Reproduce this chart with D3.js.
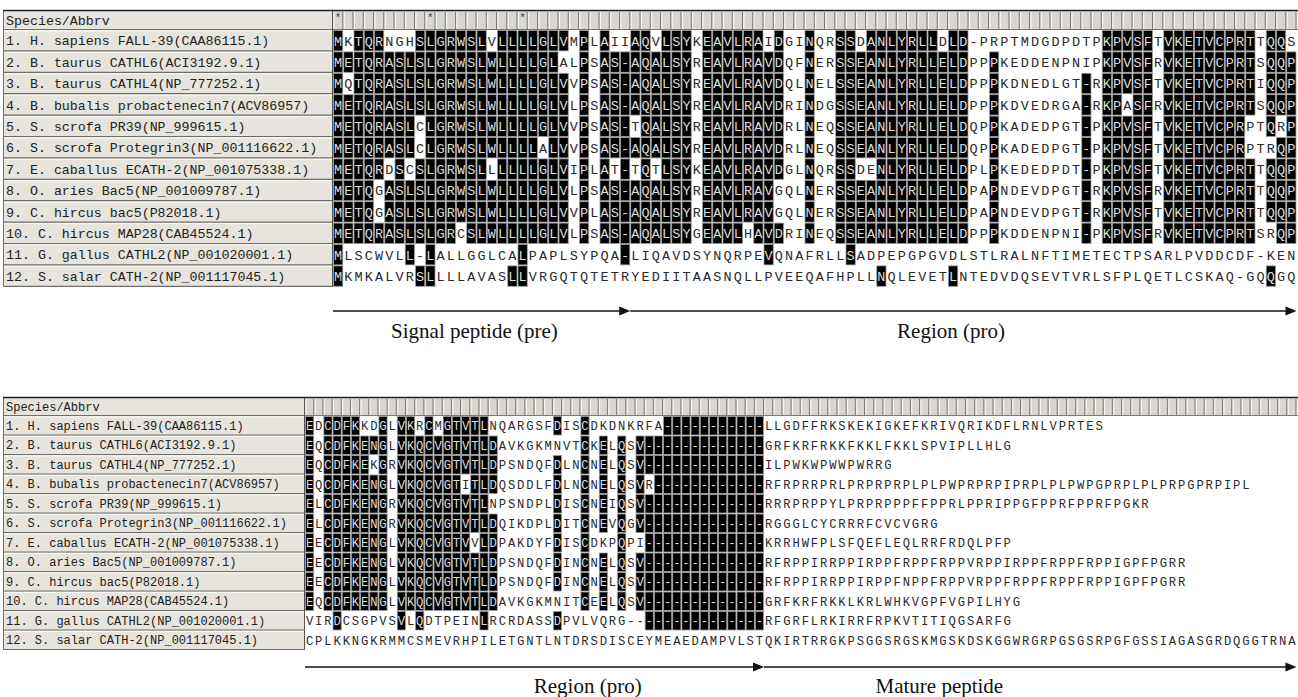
<!DOCTYPE html>
<html>
<head>
<meta charset="utf-8">
<script src="https://cdn.jsdelivr.net/npm/d3@7"></script>
<style>
body{margin:0;background:#fff;}
svg{display:block;}
</style>
</head>
<body>
<svg id="fig" width="1298" height="697"></svg>
<script>
// species names, same order in both blocks
var speciesLabels = [
    "1. H. sapiens FALL-39(CAA86115.1)",
    "2. B. taurus CATHL6(ACI3192.9.1)",
    "3. B. taurus CATHL4(NP_777252.1)",
    "4. B. bubalis probactenecin7(ACV86957)",
    "5. S. scrofa PR39(NP_999615.1)",
    "6. S. scrofa Protegrin3(NP_001116622.1)",
    "7. E. caballus ECATH-2(NP_001075338.1)",
    "8. O. aries Bac5(NP_001009787.1)",
    "9. C. hircus bac5(P82018.1)",
    "10. C. hircus MAP28(CAB45524.1)",
    "11. G. gallus CATHL2(NP_001020001.1)",
    "12. S. salar CATH-2(NP_001117045.1)"
]

// first part of the alignment (signal peptide + start of pro region)
var preproSeqs = [
    "MKTQRNGHSLGRWSLVLLLLGLVMPLAIIAQVLSYKEAVLRAIDGINQRSSDANLYRLLDLD-PRPTMDGDPDTPKPVSFTVKETVCPRTTQQSP",
    "METQRASLSLGRWSLWLLLLGLALPSAS-AQALSYREAVLRAVDQFNERSSEANLYRLLELDPPPKEDDENPNIPKPVSFRVKETVCPRTSQQPA",
    "MQTQRASLSLGRWSLWLLLLGLVVPSAS-AQALSYREAVLRAVDQLNELSSEANLYRLLELDPPPKDNEDLGT-RKPVSFTVKETVCPRTIQQPA",
    "METQRASLSLGRWSLWLLLLGLVLPSAS-AQALSYREAVLRAVDRINDGSSEANLYRLLELDPPPKDVEDRGA-RKPASFRVKETVCPRTSQQPA",
    "METQRASLCLGRWSLWLLLLGLVVPSAS-TQALSYREAVLRAVDRLNEQSSEANLYRLLELDQPPKADEDPGT-PKPVSFTVKETVCPRPTQRPP",
    "METQRASLCLGRWSLWLLLLALVVPSAS-AQALSYREAVLRAVDRLNEQSSEANLYRLLELDQPPKADEDPGT-PKPVSFTVKETVCPRPTRQPP",
    "METQRDSCSLGRWSLLLLLLGLVIPLAT-TQTLSYKEAVLRAVDGLNQRSSDENLYRLLELDPLPKEDEDPDT-PKPVSFTVKETVCPRTTQQPP",
    "METQGASLSLGRWSLWLLLLGLVLPSAS-AQALSYREAVLRAVGQLNERSSEANLYRLLELDPAPNDEVDPGT-RKPVSFRVKETVCPRTTQQPP",
    "METQGASLSLGRWSLWLLLLGLVVPLAS-AQALSYREAVLRAVGQLNERSSEANLYRLLELDPAPNDEVDPGT-RKPVSFTVKETVCPRTTQQPP",
    "METQRASLSLGRCSLWLLLLGLVLPSAS-AQALSYGEAVLHAVDRINEQSSEANLYRLLELDPPPKDDENPNI-PKPVSFRVKETVCPRTSRQPT",
    "MLSCWVLL-LALLGGLCALPAPLSYPQA-LIQAVDSYNQRPEVQNAFRLLSADPEPGPGVDLSTLRALNFTIMETECTPSARLPVDDCDF-KENG",
    "MKMKALVRSLLLLAVASLLVRGQTQTETRYEDIITAASNQLLPVEEQAFHPLLNQLEVETLNTEDVDQSEVTVRLSFPLQETLCSKAQ-GQQGQE"
]

// second part (end of pro region + mature peptide)
var proMatureSeqs = [
    "EDCDFKKDGLVKRCMGTVTLNQARGSFDISCDKDNKRFA-----------LLGDFFRKSKEKIGKEFKRIVQRIKDFLRNLVPRTES",
    "EQCDFKENGLVKQCVGTVTLDAVKGKMNVTCKELQSV-------------GRFKRFRKKFKKLFKKLSPVIPLLHLG",
    "EQCDFKEKGRVKQCVGTVTLDPSNDQFDLNCNELQSV-------------ILPWKWPWWPWRRG",
    "EQCDFKENGLVKQCVGTITLDQSDDLFDLNCNELQSVR------------RFRPRRPRLPRPRPRPLPLPWPRPRPIPRPLPLPWPGPRPLPLPRPGPRPIPL",
    "ELCDFKENGRVKQCVGTVTLNPSNDPLDISCNEIQSV-------------RRRPRPPYLPRPRPPPFFPPRLPPRIPPGFPPRFPPRFPGKR",
    "ELCDFKENGRVKQCVGTVTLDQIKDPLDITCNEVQGV-------------RGGGLCYCRRRFCVCVGRG",
    "EECDFKENGLVKQCVGTVVLDPAKDYFDISCDKPQPI-------------KRRHWFPLSFQEFLEQLRRFRDQLPFP",
    "EECDFKENGLVKQCVGTVTLDPSNDQFDINCNELQSV-------------RFRPPIRRPPIRPPFRPPFRPPVRPPIRPPFRPPFRPPIGPFPGRR",
    "EECDFKENGLVKQCVGTVTLDPSNDQFDINCNELQSV-------------RFRPPIRRPPIRPPFNPPFRPPVRPPFRPPFRPPFRPPIGPFPGRR",
    "EQCDFKENGLVKQCVGTVTLDAVKGKMNITCEELQSV-------------GRFKRFRKKLKRLWHKVGPFVGPILHYG",
    "VIRDCSGPVSVLQDTPEINLRCRDASSDPVLVQRG---------------RFGRFLRKIRRFRPKVTITIQGSARFG",
    "CPLKKNGKRMMCSMEVRHPILETGNTLNTDRSDISCEYMEAEDAMPVLSTQKIRTRRGKPSGGSRGSKMGSKDSKGGWRGRPGSGSRPGFGSSIAGASGRDQGGTRNA"
]

// regions under each block, in alignment columns
var preproRegions = [
    {name:"Signal peptide (pre)", start:0, end:29, labelCol:13.8},
    {name:"Region (pro)", start:29, end:94, labelCol:60.3}
]
var matureRegions = [
    {name:"Region (pro)", start:0, end:50, labelCol:30.8},
    {name:"Mature peptide", start:50, end:108, labelCol:69.1}
]

// a residue is shaded when at least this share of sequences agree
var shadeShare = 2/3;

var svg = d3.select("#fig");
var W = 1298;
var mono = "'Liberation Mono','DejaVu Sans Mono',monospace";
var serif = "'Liberation Serif','Times New Roman',serif";

var consensusAt = function(seqs, i){
    var present = seqs.filter(function(s){return i < s.length;});
    var counts = d3.rollup(present, function(v){return v.length;}, function(s){return s[i];});
    var best = d3.greatest(Array.from(counts), function(d){return d[1];});
    if(best && best[1] / seqs.length >= shadeShare - 1e-9){return best[0];}
    return null;
}
var conservedAt = function(seqs, i){
    var chars = seqs.map(function(s){return s[i];});
    return chars.every(function(c){return c && c != "-" && c == chars[0];});
}

var drawBlock = function(seqs, regions, cfg){
    var g = svg.append("g");
    var nCols = d3.max(seqs, function(s){return s.length;});
    var rulerCols = Math.ceil((W - cfg.colX) / cfg.colW);
    var x = d3.scaleLinear()
        .domain([0, rulerCols])
        .range([cfg.colX, cfg.colX + rulerCols * cfg.colW]);
    var y = d3.scaleBand()
        .domain(d3.range(seqs.length))
        .range([cfg.top + cfg.headH, cfg.top + cfg.headH + seqs.length * cfg.rowH]);
    var cons = d3.range(nCols).map(function(i){return consensusAt(seqs, i);});

    // label column
    g.append("rect")
        .attr("x", cfg.left).attr("y", cfg.top)
        .attr("width", cfg.colX - cfg.left).attr("height", cfg.headH + seqs.length * cfg.rowH)
        .attr("fill", "#e7e4dd")
    g.append("text")
        .attr("x", cfg.left + 3).attr("y", cfg.top + cfg.headH / 2)
        .attr("dy", "0.35em")
        .attr("font-family", mono).attr("font-size", cfg.labelFont)
        .attr("fill", "#222")
        .text("Species/Abbrv")
    g.selectAll(".lab")
        .data(speciesLabels)
        .enter()
        .append("text")
        .attr("x", cfg.left + 3)
        .attr("y", function(d, i){return y(i) + y.bandwidth() / 2;})
        .attr("dy", "0.35em")
        .attr("font-family", mono).attr("font-size", cfg.labelFont)
        .attr("fill", "#222")
        .text(function(d){return d;})
    g.selectAll(".labline")
        .data(d3.range(seqs.length + 1))
        .enter()
        .append("line")
        .attr("x1", cfg.left).attr("x2", cfg.colX)
        .attr("y1", function(i){return y(0) + i * cfg.rowH - 0.5;})
        .attr("y2", function(i){return y(0) + i * cfg.rowH - 0.5;})
        .attr("stroke", "#6e6e6e").attr("stroke-width", 1.2)
    g.selectAll(".labhi")
        .data(d3.range(seqs.length))
        .enter()
        .append("line")
        .attr("x1", cfg.left + 1).attr("x2", cfg.colX - 1)
        .attr("y1", function(i){return y(i) + 1;})
        .attr("y2", function(i){return y(i) + 1;})
        .attr("stroke", "#fbfaf7")
    g.append("line")
        .attr("x1", cfg.left + 0.5).attr("x2", cfg.left + 0.5)
        .attr("y1", cfg.top).attr("y2", y.range()[1])
        .attr("stroke", "#6e6e6e")
    g.append("line")
        .attr("x1", cfg.colX - 0.5).attr("x2", cfg.colX - 0.5)
        .attr("y1", cfg.top).attr("y2", y.range()[1])
        .attr("stroke", "#555")

    // ruler row
    g.append("rect")
        .attr("x", cfg.colX).attr("y", cfg.top)
        .attr("width", W - cfg.colX).attr("height", cfg.headH)
        .attr("fill", "#d9d6cf")
    g.selectAll(".tickhi")
        .data(d3.range(rulerCols))
        .enter()
        .append("line")
        .attr("x1", function(i){return x(i) + 1;})
        .attr("x2", function(i){return x(i) + 1;})
        .attr("y1", cfg.top + 2).attr("y2", cfg.top + cfg.headH - 1)
        .attr("stroke", "#fafafa")
    g.selectAll(".tick")
        .data(d3.range(rulerCols))
        .enter()
        .append("line")
        .attr("x1", function(i){return x(i + 1) - 0.5;})
        .attr("x2", function(i){return x(i + 1) - 0.5;})
        .attr("y1", cfg.top + 2).attr("y2", cfg.top + cfg.headH - 1)
        .attr("stroke", "#7a7a7a")
    g.selectAll(".star")
        .data(d3.range(nCols).filter(function(i){return conservedAt(seqs, i);}))
        .enter()
        .append("text")
        .attr("x", function(i){return x(i) + 2;})
        .attr("y", cfg.top + cfg.headH * 0.55)
        .attr("font-family", mono).attr("font-size", cfg.seqFont * 0.75)
        .attr("fill", "#333")
        .text("*")
    g.append("line")
        .attr("x1", cfg.left).attr("x2", W)
        .attr("y1", cfg.top + 0.5).attr("y2", cfg.top + 0.5)
        .attr("stroke", "#222").attr("stroke-width", 1.5)
    g.append("line")
        .attr("x1", cfg.colX).attr("x2", W)
        .attr("y1", cfg.top + cfg.headH - 0.5).attr("y2", cfg.top + cfg.headH - 0.5)
        .attr("stroke", "#777")

    // residues
    var cells = [];
    seqs.forEach(function(s, r){
        s.split("").forEach(function(c, i){
            cells.push({row:r, col:i, ch:c, shaded: cons[i] != null && cons[i] == c});
        })
    })
    g.selectAll(".cell")
        .data(cells.filter(function(d){return d.shaded;}))
        .enter()
        .append("rect")
        .attr("x", function(d){return x(d.col) + 0.5;})
        .attr("y", function(d){return y(d.row) + 0.5;})
        .attr("width", cfg.colW - 1)
        .attr("height", cfg.rowH - 1)
        .attr("fill", "#000")
        .attr("stroke", "#9c9c9c").attr("stroke-width", 0.8)
    // letters only where the cell is (almost) inside the picture
    g.selectAll(".res")
        .data(cells.filter(function(d){return x(d.col + 1) <= W + 2;}))
        .enter()
        .append("text")
        .attr("x", function(d){return x(d.col) + cfg.colW / 2;})
        .attr("y", function(d){return y(d.row) + cfg.rowH / 2;})
        .attr("dy", "0.36em")
        .attr("text-anchor", "middle")
        .attr("font-family", mono).attr("font-size", cfg.seqFont)
        .attr("fill", function(d){return d.shaded ? "#dcdcdc" : "#2a2a2a";})
        .text(function(d){return d.ch;})

    // region arrows and captions
    var head = 11;
    g.selectAll(".rline")
        .data(regions)
        .enter()
        .append("line")
        .attr("x1", function(d){return x(d.start);})
        .attr("x2", function(d){return Math.min(x(d.end), W) - head + 1;})
        .attr("y1", cfg.lineY).attr("y2", cfg.lineY)
        .attr("stroke", "#111").attr("stroke-width", 1.5)
    g.selectAll(".rhead")
        .data(regions)
        .enter()
        .append("path")
        .attr("d", function(d){
            var tx = Math.min(x(d.end), W);
            return "M" + tx + "," + cfg.lineY + "L" + (tx - head) + "," + (cfg.lineY - 4.5) +
                "L" + (tx - head) + "," + (cfg.lineY + 4.5) + "Z";
        })
        .attr("fill", "#111")
    g.selectAll(".rtext")
        .data(regions)
        .enter()
        .append("text")
        .attr("x", function(d){return x(d.labelCol);})
        .attr("y", cfg.textY)
        .attr("text-anchor", "middle")
        .attr("font-family", serif).attr("font-size", 21)
        .attr("fill", "#111")
        .text(function(d){return d.name;})
}

drawBlock(preproSeqs, preproRegions, {
    top:10, left:3, colX:333, colW:10.25, headH:20, rowH:21.4,
    seqFont:13.5, labelFont:13.3, lineY:311, textY:338
});
drawBlock(proMatureSeqs, matureRegions, {
    top:397, left:3, colX:305, colW:9.18, headH:19, rowH:19.5,
    seqFont:12.2, labelFont:12, lineY:667, textY:693
});
</script>
</body>
</html>
